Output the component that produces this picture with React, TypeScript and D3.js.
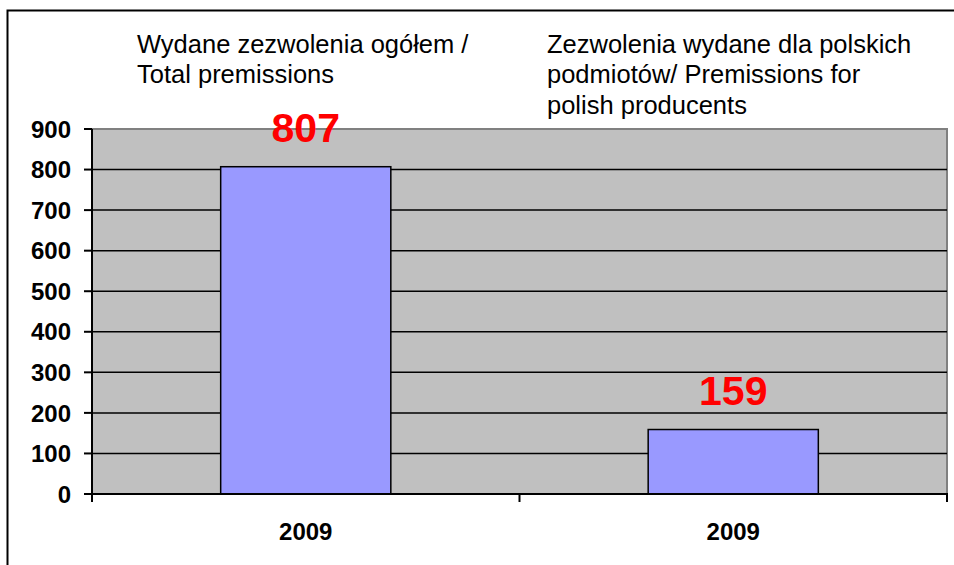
import React from "react";
import * as d3 from "d3";

const categories = ["A", "B"];
const categoryLabels = ["2009", "2009"];
const values = [807, 159];
const yTicks = [0, 100, 200, 300, 400, 500, 600, 700, 800, 900];
const headerLeft = ["Wydane zezwolenia ogółem /", "Total premissions"];
const headerRight = ["Zezwolenia wydane dla polskich", "podmiotów/ Premissions for", "polish producents"];

const W = 954;
const H = 565;
const plot = { left: 92, right: 947, top: 129, bottom: 494 };

export default function App() {
  const x = d3
    .scaleBand<string>()
    .domain(categories)
    .range([plot.left, plot.right])
    .paddingInner(0)
    .paddingOuter(0);
  const y = d3.scaleLinear().domain([0, 900]).range([plot.bottom, plot.top]);
  const barW = x.bandwidth() * 0.398;
  const font = "Arial, 'Liberation Sans', sans-serif";

  return (
    <svg
      width={W}
      height={H}
      style={{ position: "absolute", left: 0, top: 0, background: "#fff" }}
      fontFamily={font}
    >
      <rect x={0} y={0} width={W} height={H} fill="#fff" />
      {/* outer frame */}
      <path d={`M7.5,${H} L7.5,10.5 L${W},10.5`} fill="none" stroke="#000" strokeWidth={2} />
      {/* plot background */}
      <rect
        x={plot.left}
        y={plot.top}
        width={plot.right - plot.left}
        height={plot.bottom - plot.top}
        fill="#c0c0c0"
        stroke="#808080"
        strokeWidth={2}
      />
      {/* gridlines */}
      {yTicks.filter((t) => t > 0 && t < 900).map((t) => (
        <line key={t} x1={plot.left} x2={plot.right} y1={y(t)} y2={y(t)} stroke="#000" strokeWidth={1.5} />
      ))}
      {/* bars */}
      {values.map((v, i) => {
        const cx = (x(categories[i]) as number) + x.bandwidth() / 2;
        return (
          <rect
            key={i}
            x={cx - barW / 2}
            y={y(v)}
            width={barW}
            height={y(0) - y(v)}
            fill="#9999ff"
            stroke="#000"
            strokeWidth={1.5}
          />
        );
      })}
      {/* y axis */}
      <line x1={plot.left} x2={plot.left} y1={plot.top} y2={plot.bottom} stroke="#000" strokeWidth={2} />
      {yTicks.map((t) => (
        <g key={t}>
          <line x1={plot.left - 8} x2={plot.left} y1={y(t)} y2={y(t)} stroke="#000" strokeWidth={2} />
          <text x={71} y={y(t)} dy="0.36em" textAnchor="end" fontSize={24} fontWeight="bold" fill="#000">
            {t}
          </text>
        </g>
      ))}
      {/* x axis */}
      <line x1={plot.left} x2={plot.right + 1} y1={plot.bottom} y2={plot.bottom} stroke="#000" strokeWidth={2} />
      {[0, 1, 2].map((i) => {
        const xx = plot.left + i * x.bandwidth();
        return <line key={i} x1={xx} x2={xx} y1={plot.bottom} y2={plot.bottom + 8} stroke="#000" strokeWidth={2} />;
      })}
      {categories.map((c, i) => (
        <text
          key={c}
          x={(x(c) as number) + x.bandwidth() / 2}
          y={540}
          textAnchor="middle"
          fontSize={24}
          fontWeight="bold"
          fill="#000"
        >
          {categoryLabels[i]}
        </text>
      ))}
      {/* value labels */}
      {values.map((v, i) => (
        <text
          key={i}
          x={(x(categories[i]) as number) + x.bandwidth() / 2}
          y={y(v) - 25}
          textAnchor="middle"
          fontSize={41}
          fontWeight="bold"
          fill="#ff0000"
        >
          {v}
        </text>
      ))}
      {/* headers */}
      {headerLeft.map((s, i) => (
        <text key={s} x={137} y={53 + i * 30.3} fontSize={25.5} fill="#000">
          {s}
        </text>
      ))}
      {headerRight.map((s, i) => (
        <text key={s} x={547} y={53 + i * 30.3} fontSize={25.5} fill="#000">
          {s}
        </text>
      ))}
    </svg>
  );
}
